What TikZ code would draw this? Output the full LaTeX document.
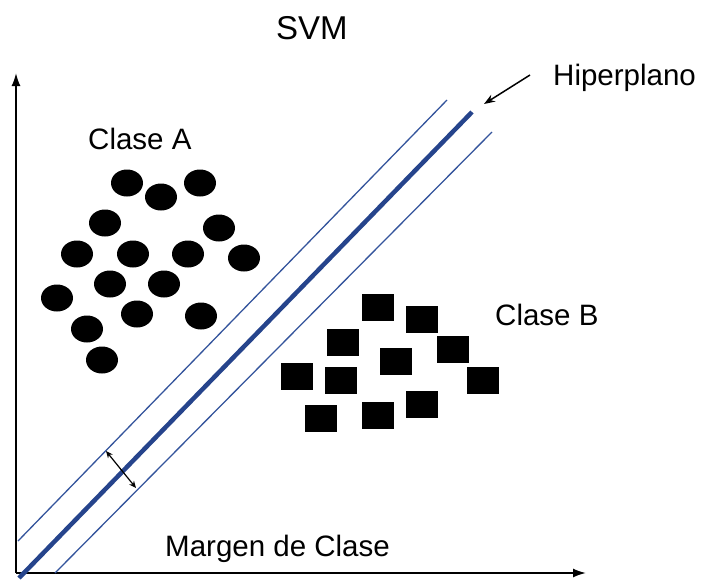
\documentclass[tikz,border=0pt]{standalone}
\usepackage{fontspec}
\setmainfont{Liberation Sans}
\usetikzlibrary{arrows.meta,shapes.geometric}
\definecolor{hyper}{RGB}{38,68,140}
\definecolor{marg}{RGB}{52,84,156}
\tikzset{
  dot/.style={ellipse,fill=black,draw=none,minimum width=32pt,minimum height=27pt,inner sep=0pt},
  sq/.style={rectangle,fill=black,draw=none,minimum width=32pt,minimum height=27pt,inner sep=0pt},
  lbl/.style={anchor=base west,inner sep=0pt,font=\fontsize{29.5}{34}\selectfont},
  axis/.style={line width=1.8pt,-{Latex[length=13pt,width=9pt]}},
  hyp/.style={line width=4.5pt,color=hyper},
  mline/.style={line width=1.3pt,color=marg},
  pointer/.style={line width=1.5pt,-{Stealth[length=11pt,width=8pt]}},
  gap/.style={line width=1.2pt,{Stealth[length=7pt,width=6pt]}-{Stealth[length=7pt,width=6pt]}}
}
\begin{document}
\begin{tikzpicture}[x=1pt,y=-1pt]
\useasboundingbox (0,0) rectangle (701,582);

% axes
\coordinate (O) at (16,573);
\coordinate (ytop) at (16,73);
\coordinate (xend) at (586,573);
\draw[axis] (O) -- (ytop);
\draw[axis] (O) -- (xend);

% separating hyperplane and its two margins
\coordinate (h1) at (19,578);
\coordinate (h2) at (472,112);
\coordinate (u1) at (18,541);
\coordinate (u2) at (447,100);
\coordinate (l1) at (55,573);
\coordinate (l2) at (492,132);
\draw[mline] (u1) -- (u2);
\draw[mline] (l1) -- (l2);
\draw[hyp] (h1) -- (h2);

% margin width marker
\coordinate (g1) at (106,451);
\coordinate (g2) at (136,488);
\draw[gap] (g1) -- (g2);

% labels
\node[lbl,font=\fontsize{33}{38}\selectfont] (title) at (276,39) {SVM};
\node[lbl] (hl) at (553,85) {Hiperplano};
\node[lbl] (ca) at (88,149) {Clase A};
\node[lbl] (cb) at (495,325) {Clase B};
\node[lbl] (mc) at (165,556) {Margen de Clase};
\coordinate (htip) at (484,104);
\draw[pointer] ([xshift=-23pt,yshift=10pt]hl.base west) -- (htip);

% class A samples
\foreach \x/\y [count=\i] in {127/183,161/197,200/183,105/223,219/228,77/254,133/254,188/254,244/258,110/284,164/284,57/298,137/314,201/316,87/329,102/360}
  \node[dot] (a\i) at (\x,\y) {};

% class B samples
\foreach \x/\y [count=\i] in {378/307,422/319,343/342,396/361,453/349,297/376,341/380,483/380,321/418,378/415,422/404}
  \node[sq] (b\i) at (\x,\y) {};
\end{tikzpicture}
\end{document}
